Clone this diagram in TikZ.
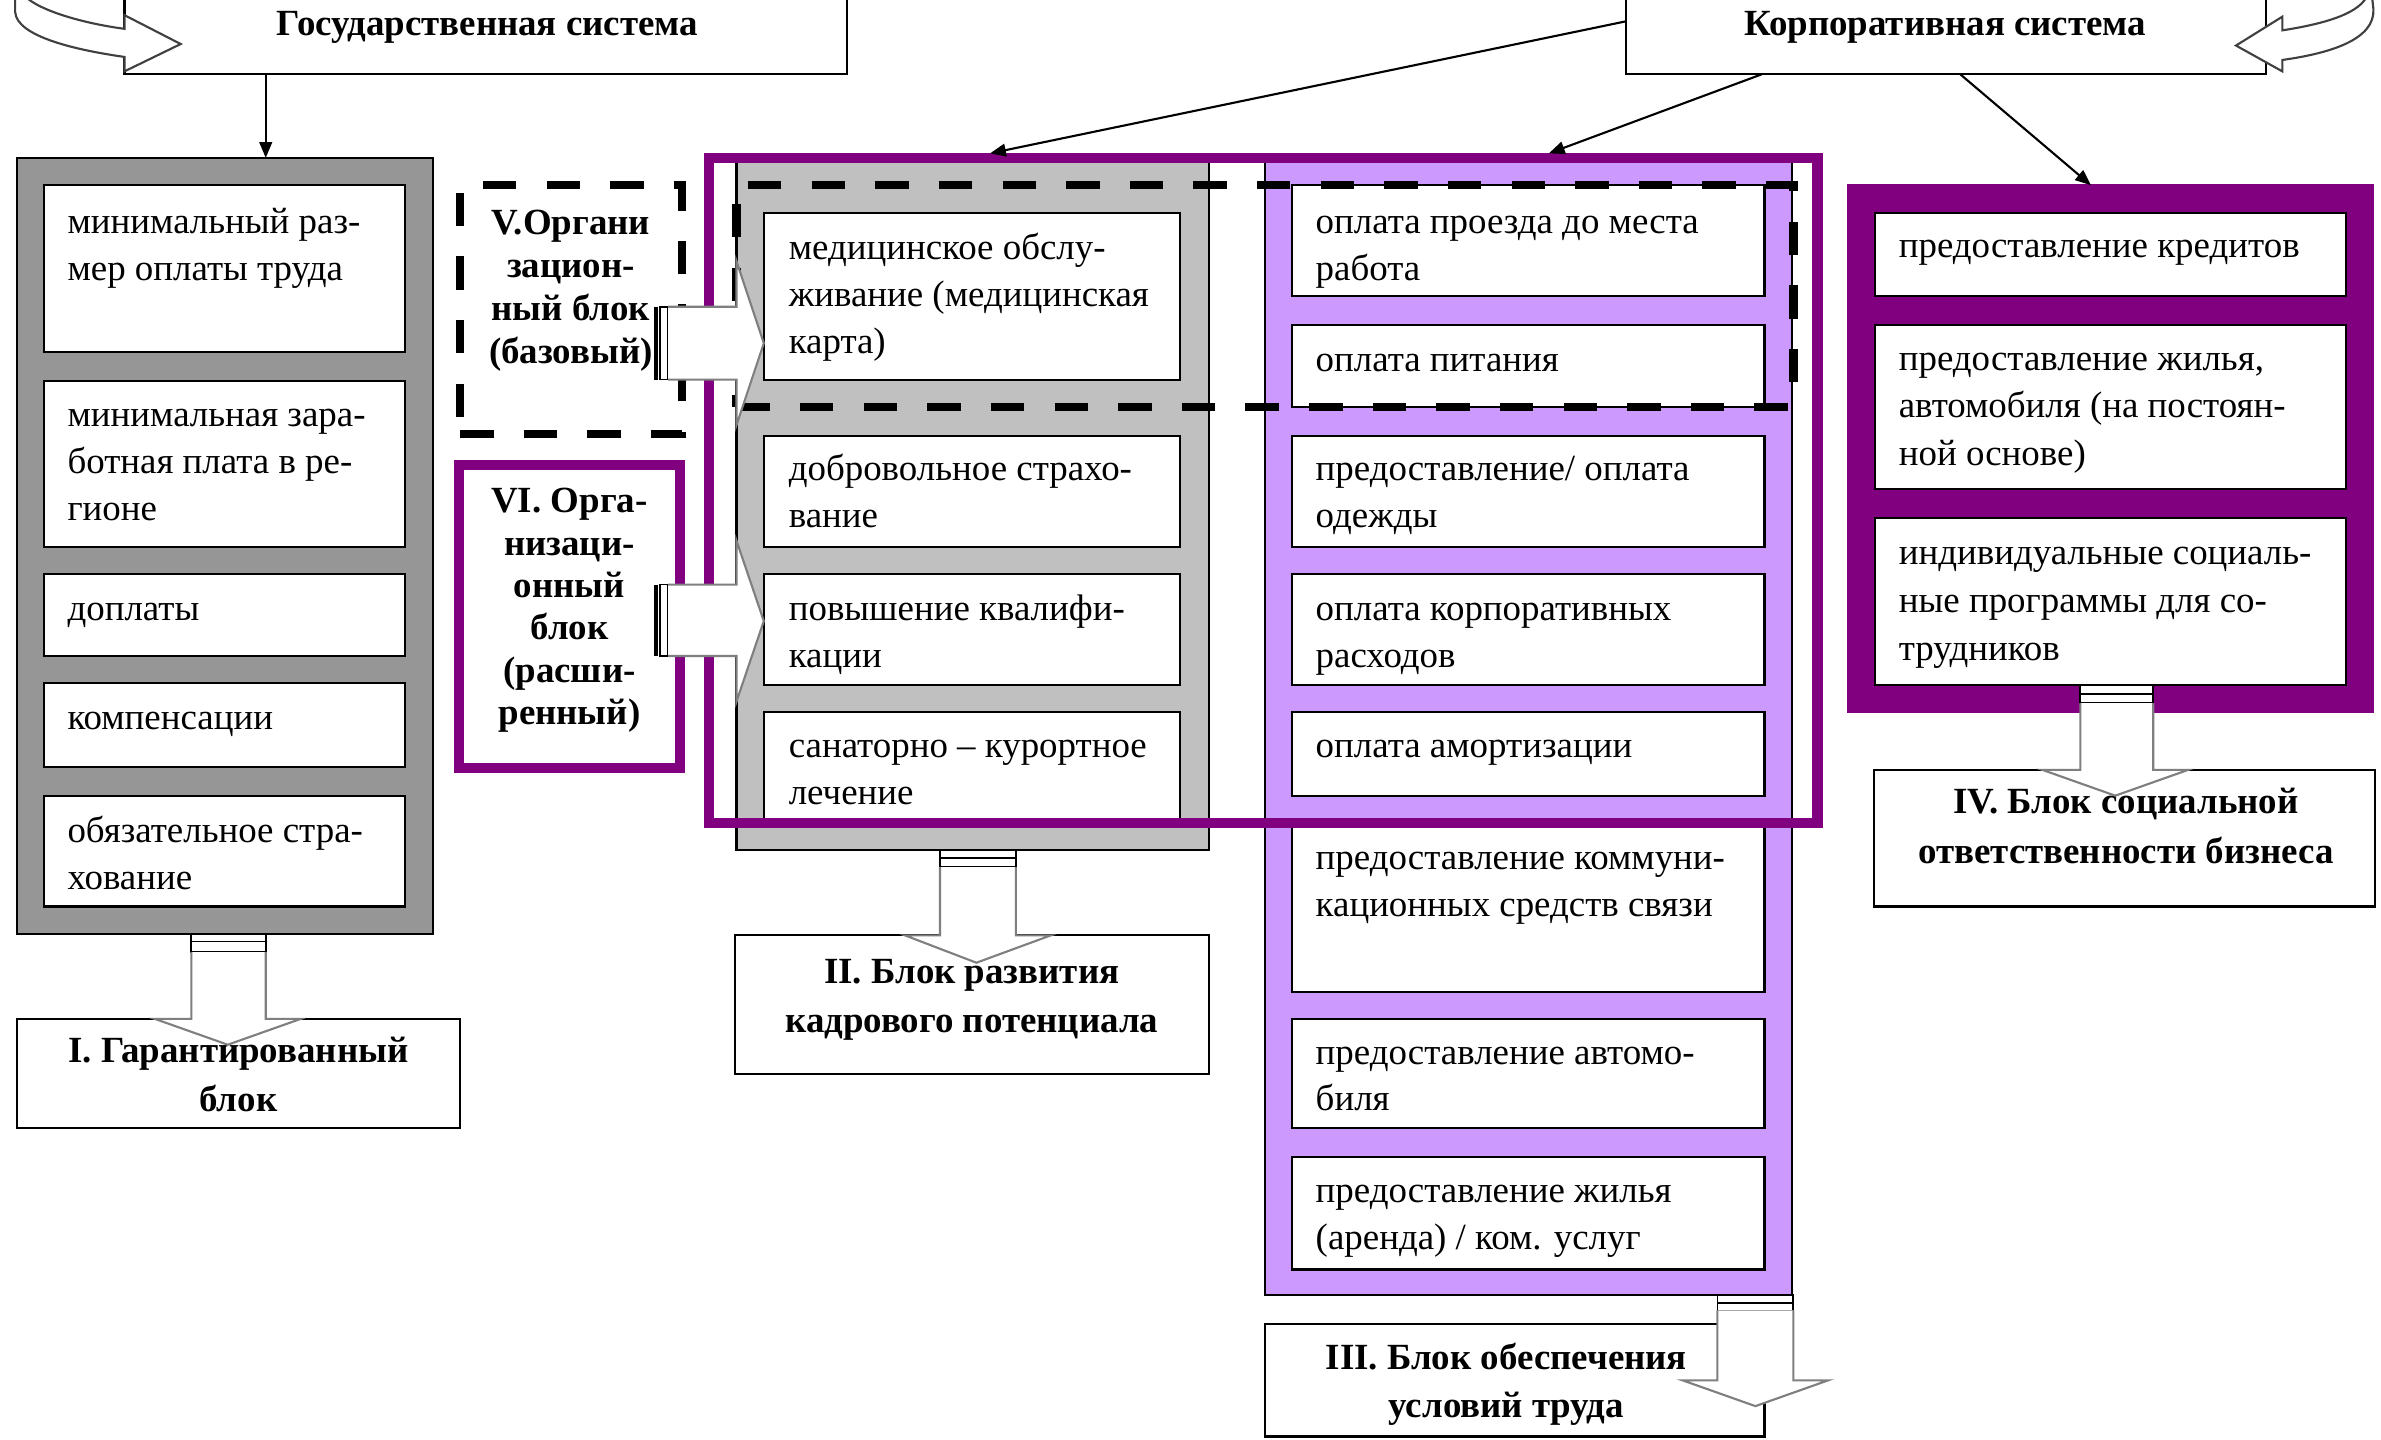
\documentclass[tikz,border=0pt]{standalone}
\usepackage{fontspec}
\setmainfont{Liberation Serif}
\usetikzlibrary{fit,calc,arrows.meta}
\definecolor{gA}{HTML}{969696}
\definecolor{gB}{HTML}{C0C0C0}
\definecolor{pu}{HTML}{800080}
\definecolor{lp}{HTML}{CC99FF}
\definecolor{ag}{HTML}{7F7F7F}
\definecolor{cg}{HTML}{404040}
\newcommand\fs{\rule{0pt}{9.35pt}}
\tikzset{
 bx/.style={draw=black, line width=0.6pt, fill=white, inner sep=0pt, outer sep=0pt},
 colbox/.style={draw=black, line width=0.6pt, inner sep=0pt, outer sep=0pt},
 txt/.style={font=\fontsize{10.5}{13.35}\selectfont, align=left, inner sep=0pt, anchor=north west},
 btx/.style={font=\bfseries\fontsize{10.5}{13.8}\selectfont, align=center, inner sep=0pt, anchor=north},
 pframe/.style={draw=pu, line width=3pt, inner sep=0pt, outer sep=0pt},
 dframe/.style={draw=black, line width=2.4pt, dash pattern=on 9.5pt off 8.6pt, inner sep=0pt, outer sep=0pt},
 barrow/.style={draw=ag, line width=0.6pt, fill=white},
 plugbox/.style={draw=black, line width=0.5pt, fill=white},
 carrow/.style={draw=cg, line width=0.6pt, fill=white},
 conn/.style={draw=black, line width=0.6pt, -{Triangle[length=4.5pt,width=3.6pt]}},
}
\begin{document}
\begin{tikzpicture}[x=0.015185cm, y=-0.015185cm]
\useasboundingbox (0,0) rectangle (1568,948);
\clip (0,0) rectangle (1568,948);
\fill[white] (0,0) rectangle (1568,948);

% top system boxes
\node[bx, fit={(82,-3) (558,49)}] (gov) {};
\node[btx] (govt) at (321,{17-15.4}) {\fs Государственная система};
\node[bx, fit={(1071,-3) (1492,49)}] (corp) {};
\node[btx] (corpt) at (1281,{17-15.4}) {\fs Корпоративная система};

% column I
\node[colbox, fill=gA, fit={(11,104) (285,615)}] (colI) {};
\node[bx, fit={(29,122) (267,232)}] (i1) {};
\node[bx, fit={(29,251) (267,360)}] (i2) {};
\node[bx, fit={(29,378) (267,432)}] (i3) {};
\node[bx, fit={(29,450) (267,505)}] (i4) {};
\node[bx, fit={(29,524) (267,597)}] (i5) {};
\node[txt] (i1t) at (44,{147-15.4}) {\fs минимальный раз-\\мер оплаты труда};
\node[txt] (i2t) at (44,{274-15.4}) {\fs минимальная зара-\\ботная плата в ре-\\гионе};
\node[txt] (i3t) at (44,{402-15.4}) {\fs доплаты};
\node[txt] (i4t) at (44,{474-15.4}) {\fs компенсации};
\node[txt] (i5t) at (44,{548-15.4}) {\fs обязательное стра-\\хование};

% column II
\node[colbox, fill=gB, fit={(485,104) (796,560)}] (colII) {};
\node[bx, fit={(503,140) (777,250)}] (ii1) {};
\node[bx, fit={(503,287) (777,360)}] (ii2) {};
\node[bx, fit={(503,378) (777,451)}] (ii3) {};
\node[bx, fit={(503,469) (777,543)}] (ii4) {};
\node[txt] (ii1t) at (519,{164-15.4}) {\fs медицинское обслу-\\живание (медицинская\\карта)};
\node[txt] (ii2t) at (519,{310-15.4}) {\fs добровольное страхо-\\вание};
\node[txt] (ii3t) at (519,{402-15.4}) {\fs повышение квалифи-\\кации};
\node[txt] (ii4t) at (519,{492-15.4}) {\fs санаторно – курортное\\лечение};

% column III
\node[colbox, fill=lp, fit={(833,104) (1180,853)}] (colIII) {};
\node[bx, fit={(851,122) (1162,195)}] (iii1) {};
\node[bx, fit={(851,214) (1162,268)}] (iii2) {};
\node[bx, fit={(851,287) (1162,360)}] (iii3) {};
\node[bx, fit={(851,378) (1162,451)}] (iii4) {};
\node[bx, fit={(851,469) (1162,524)}] (iii5) {};
\node[bx, fit={(851,541) (1162,653)}] (iii6) {};
\node[bx, fit={(851,671) (1162,743)}] (iii7) {};
\node[bx, fit={(851,762) (1162,836)}] (iii8) {};
\node[txt] (iii1t) at (866,{147-15.4}) {\fs оплата проезда до места\\работа};
\node[txt] (iii2t) at (866,{238-15.4}) {\fs оплата питания};
\node[txt] (iii3t) at (866,{310-15.4}) {\fs предоставление/ оплата\\одежды};
\node[txt] (iii4t) at (866,{402-15.4}) {\fs оплата корпоративных\\расходов};
\node[txt] (iii5t) at (866,{492-15.4}) {\fs оплата амортизации};
\node[txt] (iii6t) at (866,{566-15.4}) {\fs предоставление коммуни-\\кационных средств связи};
\node[txt] (iii7t) at (866,{694-15.4}) {\fs предоставление автомо-\\биля};
\node[txt] (iii8t) at (866,{785-15.4}) {\fs предоставление жилья\\(аренда) / ком. услуг};

% frames
\node[pframe, fit={(467,104) (1197,542)}] (frameB) {};
\node[dframe, fit={(485,122) (1181,268)}] (dashB) {};
\node[dframe, fit={(303,122) (449,286)}] (boxV) {};
\node[btx, font=\bfseries\fontsize{10.5}{12.2}\selectfont] (boxVt) at (376,{148-15.4}) {\fs V.Органи\\зацион-\\ный блок\\(базовый)};
\node[pframe, line width=2.8pt, fill=white, fit={(302,306) (448,506)}] (boxVI) {};
\node[btx, font=\bfseries\fontsize{10.5}{12.05}\selectfont] (boxVIt) at (375,{331-15.4}) {\fs VI. Орга-\\низаци-\\онный\\блок\\(расши-\\ренный)};

% column IV
\node[colbox, draw=pu, fill=pu, fit={(1217,122) (1563,469)}] (colIV) {};
\node[bx, fit={(1235,140) (1545,195)}] (iv1) {};
\node[bx, fit={(1235,214) (1545,322)}] (iv2) {};
\node[bx, fit={(1235,341) (1545,451)}] (iv3) {};
\node[txt] (iv1t) at (1250,{163-15.4}) {\fs предоставление кредитов};
\node[txt, font=\fontsize{10.5}{13.6}\selectfont] (iv2t) at (1250,{237-15.4}) {\fs предоставление жилья,\\автомобиля (на постоян-\\ной основе)};
\node[txt, font=\fontsize{10.5}{13.6}\selectfont] (iv3t) at (1250,{365-15.4}) {\fs индивидуальные социаль-\\ные программы для со-\\трудников};

% block labels
\node[bx, fit={(11,671) (303,743)}] (lI) {};
\node[btx] (lIt) at (157,{693-15.4}) {\fs I. Гарантированный\\блок};
\node[bx, fit={(484,616) (796,707)}] (lII) {};
\node[btx] (lIIt) at (640,{641-15.4}) {\fs II. Блок развития\\кадрового потенциала};
\node[bx, fit={(833,872) (1162,946)}] (lIII) {};
\node[btx] (lIIIt) at (992,{895-15.4}) {\fs III. Блок обеспечения\\условий труда};
\node[bx, fit={(1234,507) (1564,597)}] (lIV) {};
\node[btx, font=\bfseries\fontsize{10.5}{14.2}\selectfont] (lIVt) at (1400,{529-15.4}) {\fs IV. Блок социальной\\ответственности бизнеса};

% block arrows down
\draw[plugbox] (126,615) rectangle (175,620);
\draw[plugbox] (126,620) rectangle (175,627);
\draw[barrow] (126,627) -- (126,671) -- (102,671) -- (150,688) -- (198,671) -- (175,671) -- (175,627);
\draw[plugbox] (619,560) rectangle (669,565);
\draw[plugbox] (619,565) rectangle (669,571);
\draw[barrow] (619,571) -- (619,616) -- (596,616) -- (643,634) -- (692,616) -- (669,616) -- (669,571);
\draw[plugbox] (1131,853) rectangle (1181,858);
\draw[plugbox] (1131,858) rectangle (1181,863);
\draw[barrow] (1131,863) -- (1131,909) -- (1108,909) -- (1156,926) -- (1204,909) -- (1181,909) -- (1181,863);
\draw[plugbox] (1370,451) rectangle (1418,457);
\draw[plugbox] (1370,457) rectangle (1418,463);
\draw[barrow] (1370,463) -- (1370,507) -- (1345,507) -- (1393,524) -- (1441,507) -- (1418,507) -- (1418,463);

% block arrows right
\draw[line width=1.1pt] (432,202) -- (432,250);
\draw[plugbox] (434.6,202) rectangle (440,250);
\draw[barrow] (440,202) -- (485,202) -- (485,172) -- (503,226) -- (485,280) -- (485,250) -- (440,250);
\draw[line width=1.1pt] (432,385) -- (432,432);
\draw[plugbox] (434.6,385) rectangle (440,432);
\draw[barrow] (440,385) -- (485,385) -- (485,356) -- (503,409) -- (485,462) -- (485,432) -- (440,432);

% connectors
\draw[conn] ($(gov.south west)+(93,0)$) -- ($(colI.north west)+(164,0)$);
\draw[conn] ($(corp.west)+(0,-9)$) -- ($(frameB.north west)+(185,-3)$);
\draw[conn] ($(corp.south west)+(89,0)$) -- ($(frameB.north west)+(553,-3)$);
\draw[conn] ($(corp.south west)+(220,0)$) -- ($(colIV.north west)+(160,0)$);

% curved arrows
\draw[carrow] (10,-3) -- (10,8) .. controls (11,24) and (50,33) .. (82,37.5) -- (82,47) -- (119,29) -- (82,10) -- (82,19) .. controls (52,15) and (24,6) .. (16,-3) -- cycle;
\draw[carrow] (1562,-3) -- (1563,6) .. controls (1564,26) and (1535,35) .. (1503,39.5) -- (1503,47) -- (1472.5,30) -- (1503,11) -- (1503,20) .. controls (1535,15) and (1554,8) .. (1559,-3) -- cycle;
\end{tikzpicture}
\end{document}
